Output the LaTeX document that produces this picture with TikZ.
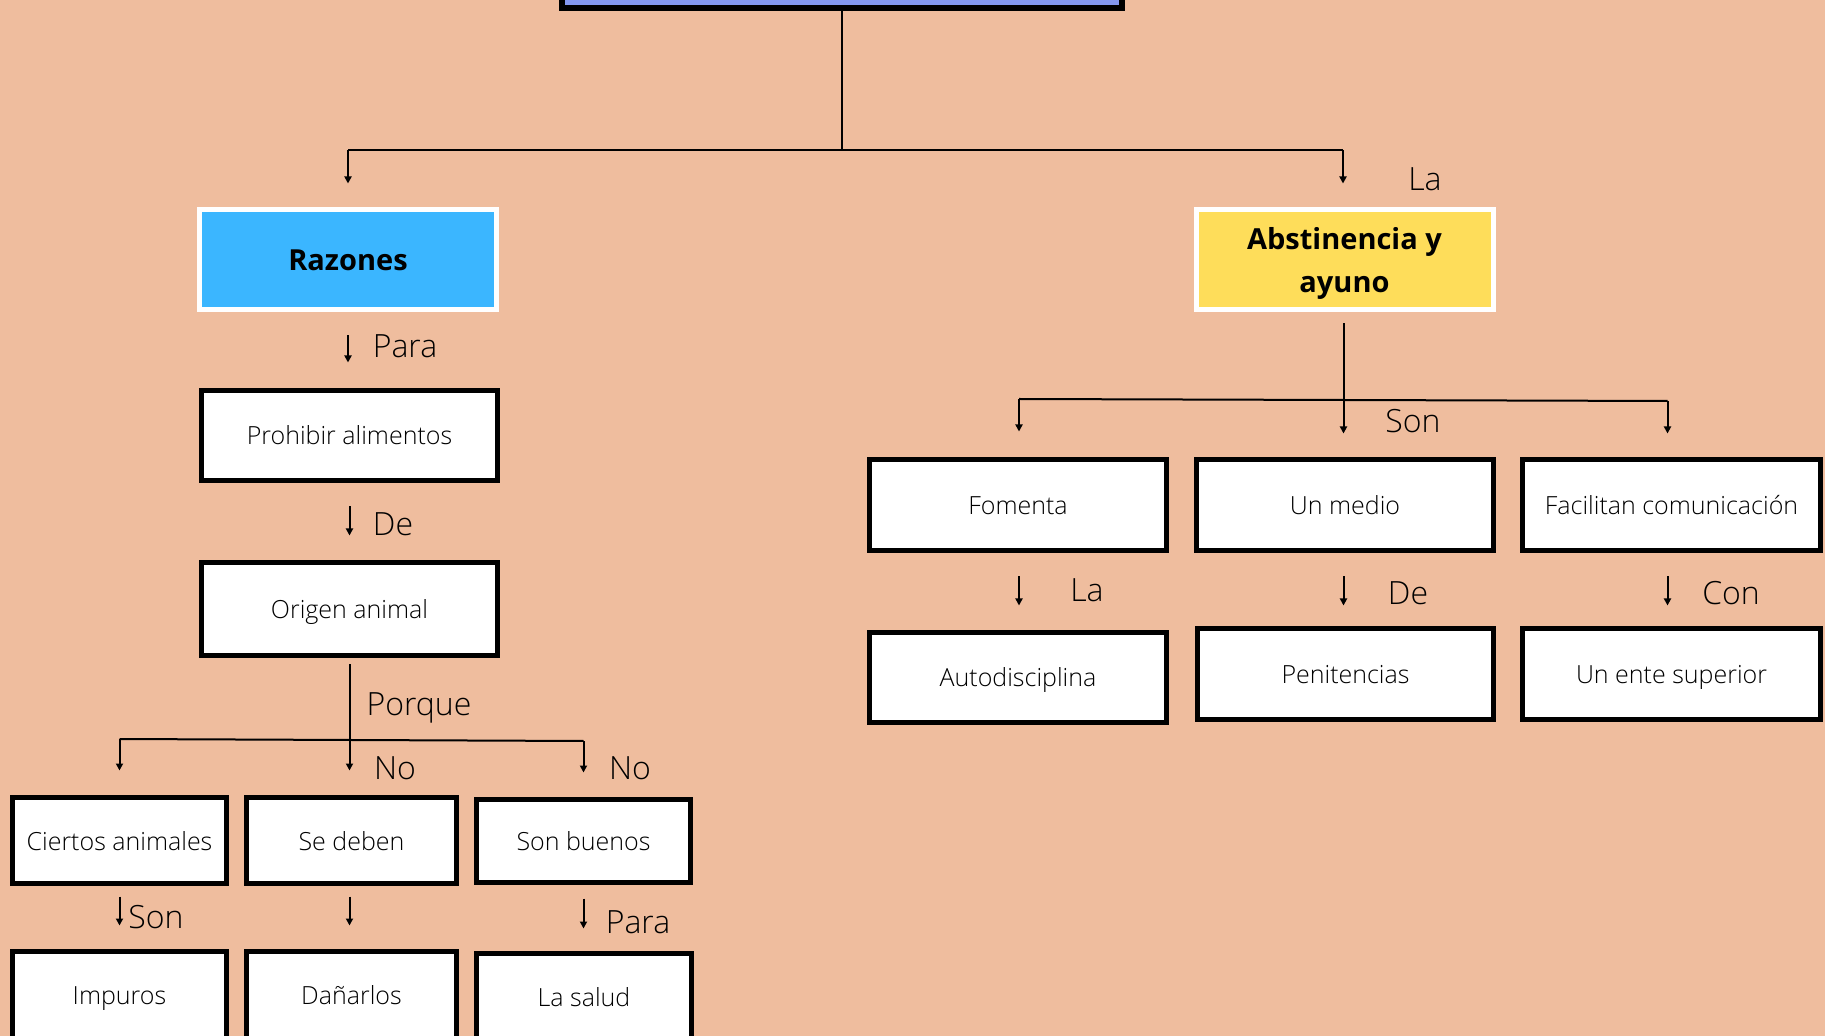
\documentclass[tikz,border=0pt]{standalone}
\usepackage{fontspec}
\setmainfont{Open Sans}
\IfFontExistsTF{Open Sans Light}{\newfontfamily\lightfont{Open Sans Light}}{\newfontfamily\lightfont{Open Sans}}
\usetikzlibrary{arrows.meta}
\definecolor{bgcol}{RGB}{239,189,158}
\definecolor{topblue}{RGB}{132,152,240}
\definecolor{razblue}{RGB}{59,182,255}
\definecolor{absyellow}{RGB}{254,221,90}
\begin{document}
\begin{tikzpicture}[x=0.5pt,y=-0.5pt,
  wbox/.style={draw=black, line width=2.5pt, fill=white, inner sep=0pt, align=center,
    text height=9.5pt, text depth=0pt,
    font=\lightfont\fontsize{12.5}{15}\selectfont},
  hbox/.style={draw=white, line width=2.5pt, inner sep=0pt, align=center,
    minimum width=148.5pt, minimum height=50pt,
    font=\bfseries\fontsize{14.5}{20.5}\selectfont},
  lbl/.style={inner sep=0pt, anchor=base, font=\lightfont\fontsize{16}{19}\selectfont},
  ln/.style={line width=1pt},
  arr/.style={line width=1pt, -{Triangle[length=3.5pt,width=3.5pt]}}]
\fill[bgcol] (0,0) rectangle (1825,1036);
\useasboundingbox (0,0) rectangle (1825,1036);

% top box
\node[draw=black, line width=3pt, fill=topblue, minimum width=280pt, minimum height=24pt, inner sep=0pt] (top) at (842,-16) {};

% headers
\node[hbox, fill=razblue] (razones) at (348,259.5) {\raisebox{-0.6pt}[\height][\depth]{Razones}};
\node[hbox, fill=absyellow] (abst) at (1344.5,259.5) {\raisebox{-1.5pt}[\height][\depth]{\begin{tabular}{@{}c@{}}Abstinencia y\\[1.1pt]ayuno\end{tabular}}};

% left column
\node[wbox, minimum width=148pt, minimum height=45pt] (prohibir) at (349.5,435.5) {Prohibir alimentos};
\node[wbox, minimum width=148pt, minimum height=46.5pt] (origen) at (349.5,609) {Origen animal};
\node[wbox, minimum width=107pt, minimum height=43pt] (ciertos) at (119.5,840.5) {Ciertos animales};
\node[wbox, minimum width=105pt, minimum height=43pt] (sedeben) at (351.5,840.5) {Se deben};
\node[wbox, minimum width=107pt, minimum height=41.5pt] (sonbuenos) at (583.5,841) {Son buenos};
\node[wbox, minimum width=107pt, minimum height=43.5pt] (impuros) at (119.5,995) {Impuros};
\node[wbox, minimum width=105pt, minimum height=43.5pt] (danarlos) at (351.5,995) {Dañarlos};
\node[wbox, minimum width=107.5pt, minimum height=43pt] (lasalud) at (584,996.5) {La salud};

% right columns
\node[wbox, minimum width=148.5pt, minimum height=45.5pt] (fomenta) at (1018,505) {Fomenta};
\node[wbox, minimum width=148.5pt, minimum height=45.5pt] (unmedio) at (1345,505) {Un medio};
\node[wbox, minimum width=149pt, minimum height=45.5pt] (facilitan) at (1671.5,505) {Facilitan comunicación};
\node[wbox, minimum width=148.5pt, minimum height=45pt] (autodisc) at (1018,677.5) {Autodisciplina};
\node[wbox, minimum width=148pt, minimum height=45.5pt] (penit) at (1345.5,674) {Penitencias};
\node[wbox, minimum width=149pt, minimum height=45.5pt] (ente) at (1671.5,674) {Un ente superior};

% junction coordinates
\coordinate (tj) at (842,150);
\coordinate (tL) at (348,150);
\coordinate (tR) at (1343,150);
\coordinate (bL) at (119.5,739);
\coordinate (bR) at (583.5,741);
\coordinate (rj) at (1343.5,400);
\coordinate (rL) at (1019,399);
\coordinate (rR) at (1667.5,401);

% top connectors
\draw[ln] (top.south) -- (tj);
\draw[ln] (tL) -- (tR);
\draw[arr, shorten >=11.75pt] (tL) -- (tL |- razones.north);
\draw[arr, shorten >=11.75pt] (tR) -- (tR |- abst.north);

% left connectors
\draw[arr, shorten <=11.75pt, shorten >=12.75pt] (razones.south) -- (razones.south |- prohibir.north);
\draw[arr, shorten <=11.75pt, shorten >=12.25pt] (prohibir.south) -- (origen.north);
\draw[arr, shorten <=3.25pt, shorten >=12.25pt] (origen.south) -- (origen.south |- sedeben.north);
\draw[ln] (bL) -- (bR);
\draw[arr, shorten >=12.25pt] (bL) -- (ciertos.north);
\draw[arr, shorten >=12.25pt] (bR) -- (sonbuenos.north);
\draw[arr, shorten <=5.25pt, shorten >=11.75pt] (ciertos.south) -- (impuros.north);
\draw[arr, shorten <=5.25pt, shorten >=11.75pt] (origen.south |- sedeben.south) -- (origen.south |- danarlos.north);
\draw[arr, shorten <=6.75pt, shorten >=11.25pt] (sonbuenos.south) -- (sonbuenos.south |- lasalud.north);

% right connectors
\draw[ln, shorten <=5.75pt] (rj |- abst.south) -- (rj);
\draw[ln] (rL) -- (rR);
\draw[arr, shorten >=12.75pt] (rL) -- (rL |- fomenta.north);
\draw[arr, shorten >=11.75pt] (rj) -- (rj |- unmedio.north);
\draw[arr, shorten >=11.75pt] (rR) -- (rR |- facilitan.north);
\draw[arr, shorten <=11.75pt, shorten >=12.25pt] (rL |- fomenta.south) -- (rL |- autodisc.north);
\draw[arr, shorten <=11.75pt, shorten >=10.25pt] (rj |- unmedio.south) -- (rj |- penit.north);
\draw[arr, shorten <=11.75pt, shorten >=10.25pt] (rR |- facilitan.south) -- (rR |- ente.north);

% labels
\node[lbl] (lLa1) at (1425,191) {La};
\node[lbl] (lPara1) at (405,358) {Para};
\node[lbl] (lDe1) at (393,536) {De};
\node[lbl] (lPorque) at (419,716) {Porque};
\node[lbl] (lNo1) at (395,779) {No};
\node[lbl] (lNo2) at (630,779) {No};
\node[lbl] (lSon1) at (156,928) {Son};
\node[lbl] (lPara2) at (638,933) {Para};
\node[lbl] (lSon2) at (1413,433) {Son};
\node[lbl] (lLa2) at (1087,602) {La};
\node[lbl] (lDe2) at (1408,605) {De};
\node[lbl] (lCon) at (1731,605) {Con};
\end{tikzpicture}
\end{document}
